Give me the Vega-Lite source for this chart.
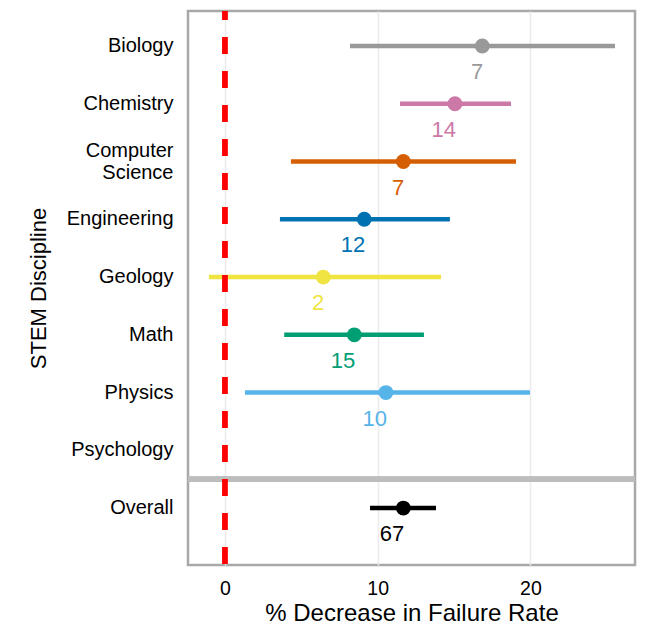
{
  "$schema": "https://vega.github.io/schema/vega-lite/v6.json",
  "width": 447,
  "height": 554,
  "autosize": "none",
  "padding": {"left": 188, "top": 11, "right": 16, "bottom": 62},
  "background": "white",
  "config": {
    "font": "Liberation Sans",
    "view": {"stroke": "#a8a8a8", "strokeWidth": 2.5}
  },
  "data": {
    "values": [
      {"discipline": "Biology", "est": 16.85, "lo": 8.19, "hi": 25.54, "n": 7},
      {"discipline": "Chemistry", "est": 15.06, "lo": 11.46, "hi": 18.73, "n": 14},
      {"discipline": "Computer Science", "est": 11.68, "lo": 4.32, "hi": 19.06, "n": 7},
      {"discipline": "Engineering", "est": 9.12, "lo": 3.6, "hi": 14.73, "n": 12},
      {"discipline": "Geology", "est": 6.44, "lo": -1.05, "hi": 14.15, "n": 2},
      {"discipline": "Math", "est": 8.47, "lo": 3.88, "hi": 13.03, "n": 15},
      {"discipline": "Physics", "est": 10.54, "lo": 1.31, "hi": 19.97, "n": 10},
      {"discipline": "Overall", "est": 11.68, "lo": 9.5, "hi": 13.82, "n": 67}
    ]
  },
  "encoding": {
    "y": {
      "field": "discipline",
      "type": "nominal",
      "scale": {
        "type": "band",
        "domain": ["Biology", "Chemistry", "Computer Science", "Engineering", "Geology", "Math", "Physics", "Psychology", "Overall"],
        "paddingInner": 0,
        "paddingOuter": 0.2965,
        "align": 0.18
      },
      "axis": {
        "title": "STEM Discipline",
        "titleFontSize": 22,
        "titleFontWeight": "normal",
        "titleColor": "black",
        "titlePadding": 16,
        "labelFontSize": 20,
        "labelColor": "black",
        "labelPadding": 15,
        "labelLineHeight": 22,
        "labelOffset": {"condition": {"test": "datum.value == 'Computer Science'", "value": -11}, "value": 0},
        "ticks": false,
        "domain": false,
        "grid": false,
        "labelExpr": "datum.value == 'Computer Science' ? ['Computer\u00a0', 'Science'] : datum.value"
      }
    },
    "x": {
      "field": "est",
      "type": "quantitative",
      "scale": {"domain": [-2.42, 26.85], "nice": false, "zero": false},
      "axis": {
        "values": [0, 10, 20],
        "grid": true,
        "gridColor": "#ebebeb",
        "gridWidth": 1.5,
        "ticks": false,
        "domain": false,
        "labelFontSize": 19.5,
        "labelColor": "black",
        "labelPadding": 14,
        "title": "% Decrease in Failure Rate",
        "titleFontSize": 24,
        "titleFontWeight": "normal",
        "titleColor": "black",
        "titlePadding": 4
      }
    },
    "color": {
      "field": "discipline",
      "type": "nominal",
      "scale": {
        "domain": ["Biology", "Chemistry", "Computer Science", "Engineering", "Geology", "Math", "Physics", "Overall"],
        "range": ["#999999", "#CC79A7", "#D55E00", "#0072B2", "#F0E442", "#009E73", "#56B4E9", "#000000"]
      },
      "legend": null
    }
  },
  "layer": [
    {
      "mark": {"type": "rule", "color": "#bdbdbd", "strokeWidth": 5},
      "encoding": {
        "y": {"datum": "Overall", "bandPosition": 0},
        "x": null,
        "color": null
      }
    },
    {
      "mark": {"type": "rule", "strokeWidth": 4.5},
      "encoding": {
        "x": {"field": "lo", "type": "quantitative"},
        "x2": {"field": "hi"}
      }
    },
    {
      "mark": {"type": "circle", "size": 220, "opacity": 1}
    },
    {
      "mark": {"type": "text", "align": "right", "baseline": "middle", "dx": 1, "dy": 26, "fontSize": 22},
      "encoding": {"text": {"field": "n", "type": "nominal"}}
    },
    {
      "mark": {"type": "rule", "color": "#ff0000", "strokeWidth": 4.5, "strokeDash": [17, 17], "strokeDashOffset": 8},
      "encoding": {"x": {"datum": 0}, "y": null, "color": null}
    }
  ]
}
